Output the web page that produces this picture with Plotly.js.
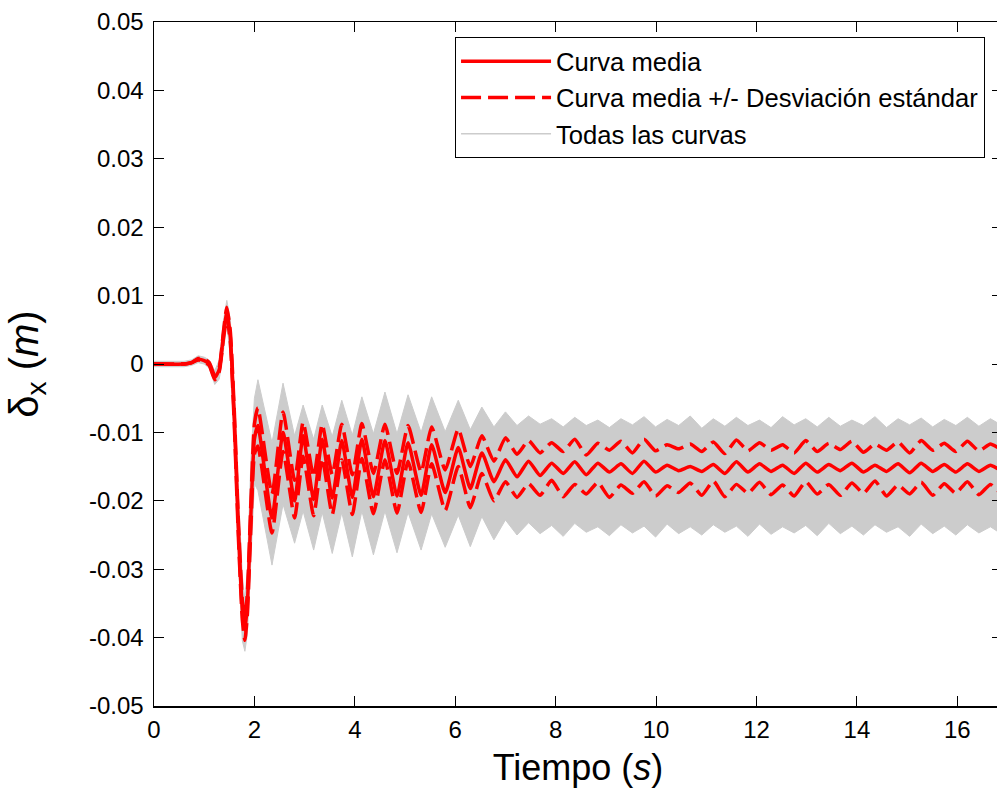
<!DOCTYPE html>
<html>
<head>
<meta charset="utf-8">
<script src="https://cdn.plot.ly/plotly-3.0.1.min.js"></script>
<style>
html,body{margin:0;padding:0;overflow:hidden;background:#fff;}
#chart{width:1002px;height:796px;}
</style>
</head>
<body>
<div id="chart"></div>
<script>
// Tiempo (s)
var tiempo = [0,0.6,0.75,0.88,1.0,1.1,1.21,1.3,1.38,1.45,1.52,1.6,1.68,1.76,1.81,1.86,1.93,2.0,
  2.07,2.35,2.57,2.80,2.97,3.18,3.35,3.55,3.74,3.95,4.14,4.37,4.60,4.84,5.06,5.32,5.53,5.80,6.06,6.30,6.53,6.77,
  7.00,7.23,7.46,7.69,7.92,8.15,8.38,8.61,8.84,9.07,9.30,9.53,9.76,9.99,10.22,10.45,10.68,10.91,11.14,11.37,
  11.60,11.83,12.06,12.29,12.52,12.75,12.98,13.21,13.44,13.67,13.90,14.13,14.36,14.59,14.82,15.05,15.28,15.51,
  15.74,15.97,16.20,16.43,16.66,16.89,17.0];

// Curva media
var curvaMedia = [0,0,0.0002,0.0007,0.0005,0,-0.0020,-0.0008,0.0040,0.0076,0.0040,-0.0080,-0.0240,-0.0360,-0.0389,-0.0350,-0.0220,-0.0110,
  -0.0090,-0.0225,-0.0100,-0.0200,-0.0105,-0.0198,-0.0110,-0.0196,-0.0112,-0.0195,-0.0110,-0.0194,-0.0112,-0.0193,-0.0115,-0.0192,-0.0118,-0.0188,-0.0122,-0.0182,-0.0130,-0.0172,
  -0.0140,-0.0165,-0.0142,-0.0163,-0.0145,-0.0160,-0.0143,-0.0162,-0.0145,-0.0158,-0.0146,-0.0160,-0.0142,-0.0158,-0.0148,-0.0156,-0.0150,-0.0157,-0.0147,-0.0160,
  -0.0143,-0.0158,-0.0146,-0.0157,-0.0148,-0.0160,-0.0145,-0.0158,-0.0147,-0.0156,-0.0145,-0.0158,-0.0148,-0.0157,-0.0146,-0.0159,-0.0145,-0.0157,
  -0.0147,-0.0158,-0.0146,-0.0157,-0.0148,-0.0156,-0.0152];

// Curva media + desviación estándar
var desvSup = [0,0,0.0002,0.0008,0.0007,0.0002,-0.0017,-0.0005,0.0045,0.0083,0.0048,-0.0070,-0.0228,-0.0346,-0.0374,-0.0334,-0.0202,-0.0088,
  -0.0064,-0.0190,-0.0070,-0.0170,-0.0085,-0.0165,-0.0088,-0.0162,-0.0088,-0.0162,-0.0087,-0.0160,-0.0088,-0.0160,-0.0090,-0.0158,-0.0092,-0.0155,-0.0095,-0.0150,-0.0105,-0.0142,
  -0.0108,-0.0132,-0.0112,-0.0130,-0.0115,-0.0128,-0.0110,-0.0133,-0.0116,-0.0126,-0.0113,-0.0130,-0.0110,-0.0127,-0.0118,-0.0124,-0.0117,-0.0128,-0.0114,-0.0131,
  -0.0111,-0.0127,-0.0115,-0.0126,-0.0118,-0.0130,-0.0112,-0.0128,-0.0116,-0.0125,-0.0113,-0.0129,-0.0117,-0.0126,-0.0114,-0.0130,-0.0112,-0.0126,
  -0.0116,-0.0128,-0.0113,-0.0127,-0.0117,-0.0125,-0.0121];

// Curva media - desviación estándar
var desvInf = [0,0,0.0002,0.0006,0.0003,-0.0002,-0.0023,-0.0011,0.0035,0.0069,0.0032,-0.0090,-0.0252,-0.0374,-0.0404,-0.0366,-0.0238,-0.0132,
  -0.0120,-0.0247,-0.0128,-0.0225,-0.0135,-0.0222,-0.0138,-0.0220,-0.0140,-0.0220,-0.0138,-0.0219,-0.0140,-0.0218,-0.0142,-0.0217,-0.0146,-0.0214,-0.0150,-0.0210,-0.0160,-0.0200,
  -0.0172,-0.0195,-0.0175,-0.0192,-0.0170,-0.0194,-0.0176,-0.0190,-0.0173,-0.0195,-0.0177,-0.0189,-0.0172,-0.0193,-0.0178,-0.0188,-0.0174,-0.0192,-0.0171,-0.0194,
  -0.0176,-0.0189,-0.0173,-0.0191,-0.0177,-0.0193,-0.0172,-0.0190,-0.0176,-0.0192,-0.0174,-0.0189,-0.0171,-0.0193,-0.0177,-0.0190,-0.0173,-0.0192,
  -0.0175,-0.0189,-0.0172,-0.0191,-0.0176,-0.0190,-0.0182];

// Todas las curvas: envolvente superior e inferior
var grisSup = [0.0004,0.0004,0.0006,0.0012,0.0010,0.0006,-0.0010,0.0006,0.0062,0.0093,0.0065,-0.0040,-0.0190,-0.0310,-0.0345,-0.0300,-0.0140,-0.0050,
  -0.0023,-0.0115,-0.0028,-0.0105,-0.0060,-0.0110,-0.0060,-0.0106,-0.0053,-0.0104,-0.0048,-0.0102,-0.0041,-0.0102,-0.0045,-0.0100,-0.0048,-0.0099,-0.0053,-0.0096,-0.0063,-0.0092,
  -0.0070,-0.0090,-0.0076,-0.0088,-0.0080,-0.0092,-0.0078,-0.0090,-0.0082,-0.0093,-0.0080,-0.0089,-0.0077,-0.0092,-0.0081,-0.0090,-0.0076,-0.0094,-0.0080,-0.0091,
  -0.0078,-0.0090,-0.0082,-0.0093,-0.0077,-0.0089,-0.0080,-0.0092,-0.0078,-0.0091,-0.0082,-0.0090,-0.0077,-0.0093,-0.0080,-0.0089,-0.0079,-0.0092,
  -0.0081,-0.0090,-0.0078,-0.0091,-0.0080,-0.0090,-0.0085];

var grisInf = [-0.0004,-0.0004,-0.0002,0.0002,0.0000,-0.0006,-0.0030,-0.0022,0.0018,0.0058,0.0012,-0.0115,-0.0290,-0.0405,-0.0420,-0.0395,-0.0285,-0.0175,
  -0.0185,-0.0294,-0.0205,-0.0262,-0.0215,-0.0272,-0.0217,-0.0277,-0.0217,-0.0282,-0.0215,-0.0279,-0.0215,-0.0276,-0.0217,-0.0272,-0.0219,-0.0268,-0.0221,-0.0267,-0.0223,-0.0257,
  -0.0228,-0.0250,-0.0232,-0.0248,-0.0236,-0.0252,-0.0233,-0.0246,-0.0238,-0.0251,-0.0235,-0.0247,-0.0237,-0.0253,-0.0234,-0.0248,-0.0238,-0.0250,-0.0235,-0.0246,
  -0.0237,-0.0252,-0.0234,-0.0249,-0.0238,-0.0247,-0.0236,-0.0251,-0.0233,-0.0248,-0.0237,-0.0250,-0.0235,-0.0246,-0.0238,-0.0252,-0.0234,-0.0248,
  -0.0237,-0.0250,-0.0235,-0.0247,-0.0238,-0.0249,-0.0243];

// Etiquetas de los ejes
var xTickVals = [0,2,4,6,8,10,12,14,16];
var xTickText = ['0','2','4','6','8','10','12','14','16'];
var yTickVals = [0.05,0.04,0.03,0.02,0.01,0,-0.01,-0.02,-0.03,-0.04,-0.05];
var yTickText = ['0.05','0.04','0.03','0.02','0.01','0','-0.01','-0.02','-0.03','-0.04','-0.05'];

var nombres = ['Curva media','Curva media +/- Desviación estándar','Todas las curvas'];

var RED = '#ff0000', GRAY = '#cccccc';
var FONT = 'Liberation Sans, Arial, sans-serif';

var traces = [
  {x: tiempo, y: grisInf, mode:'lines', line:{color:GRAY, width:1}, showlegend:false, hoverinfo:'skip'},
  {x: tiempo, y: grisSup, mode:'lines', line:{color:GRAY, width:1}, fill:'tonexty', fillcolor:GRAY, showlegend:false, hoverinfo:'skip'},
  {x: [null], y: [null], mode:'lines', line:{color:GRAY, width:1.5}, name:nombres[2], legendrank:3},
  {x: tiempo, y: desvSup, mode:'lines', line:{color:RED, width:3.5, dash:'20px,7px', shape:'spline', smoothing:0.5}, name:nombres[1], legendrank:2},
  {x: tiempo, y: desvInf, mode:'lines', line:{color:RED, width:3.5, dash:'20px,7px', shape:'spline', smoothing:0.5}, showlegend:false},
  {x: tiempo, y: curvaMedia, mode:'lines', line:{color:RED, width:3.5, shape:'spline', smoothing:0.5}, name:nombres[0], legendrank:1}
];

var layout = {
  width: 1002, height: 796,
  margin: {l:154, r:0, t:22, b:90},
  paper_bgcolor:'#fff', plot_bgcolor:'#fff',
  font: {family: FONT, size: 24, color:'#000'},
  showlegend: true,
  legend: {
    x: 0.355, y: 0.978, xanchor:'left', yanchor:'top',
    bgcolor:'#fff', bordercolor:'#000', borderwidth:1,
    font:{family:FONT, size:25.6, color:'#000'},
    itemwidth: 90, traceorder:'normal'
  },
  xaxis: {
    range:[0, 16.89], tickvals:xTickVals, ticktext:xTickText,
    ticks:'inside', ticklen:10, tickwidth:1, tickcolor:'#000',
    showline:true, linecolor:'#000', linewidth:1.5, mirror:'ticks',
    showgrid:false, zeroline:false, ticklabelstandoff:2,
    tickfont:{family:FONT, size:24, color:'#000'},
    title:{text:'Tiempo (<i>s</i>)', font:{family:FONT, size:36, color:'#000'}, standoff:12}
  },
  yaxis: {
    range:[-0.05, 0.05], tickvals:yTickVals, ticktext:yTickText,
    ticks:'inside', ticklen:10, tickwidth:1, tickcolor:'#000',
    showline:true, linecolor:'#000', linewidth:1.5, mirror:'ticks',
    showgrid:false, zeroline:false, ticklabelstandoff:4,
    tickfont:{family:FONT, size:24, color:'#000'},
    title:{text:'δ<sub>x</sub> (<i>m</i>)', font:{family:FONT, size:40, color:'#000'}, standoff:38}
  }
};

Plotly.newPlot('chart', traces, layout, {displayModeBar:false, staticPlot:true});
</script>
</body>
</html>
